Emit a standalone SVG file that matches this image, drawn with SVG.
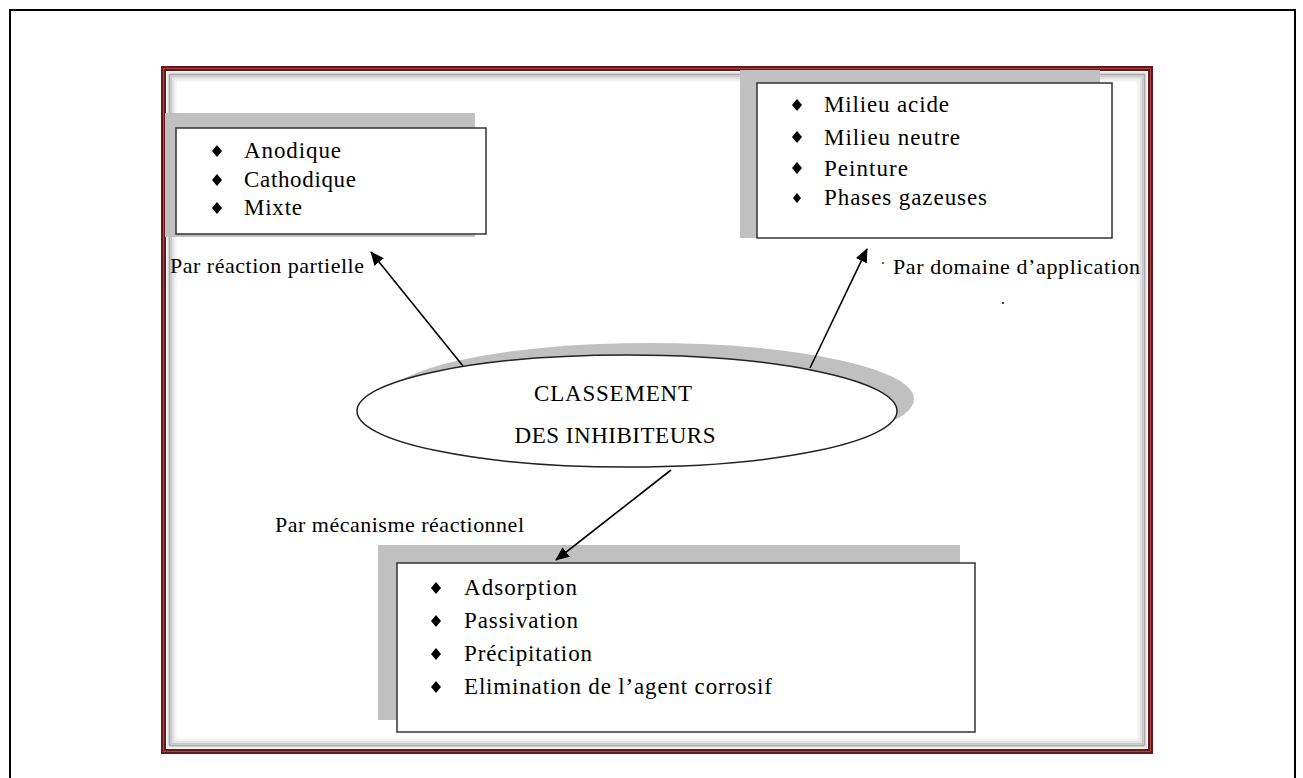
<svg xmlns="http://www.w3.org/2000/svg" width="1303" height="778" viewBox="0 0 1303 778">
<style>
  .t { font-family: "Liberation Serif", "Times New Roman", serif; font-size: 23px; fill: #000; }
  .lb { font-size: 22px; }
  .box { fill: #fff; stroke: #333; stroke-width: 1.5; }
  .sh { fill: #c0c0c0; }
  .conn { stroke: #000; stroke-width: 1.6; fill: none; marker-end: url(#ah); }
</style>
<defs>
  <marker id="ah" viewBox="0 0 14 12" refX="13" refY="6" markerWidth="14" markerHeight="12" markerUnits="userSpaceOnUse" orient="auto">
    <path d="M0,0 L14,6 L0,12 Z" fill="#000"/>
  </marker>
  <polygon id="dia" points="0,-6 5,0 0,6 -5,0" fill="#000"/>
</defs>
<rect width="1303" height="778" fill="#fff"/>
<!-- outer border -->
<rect x="10" y="10" width="1285" height="800" fill="none" stroke="#000" stroke-width="2"/>
<!-- inner frame -->
<g id="frame">
  <rect x="163.5" y="68.5" width="987" height="683" fill="#fff" stroke="#6a1519" stroke-width="5"/>
  <rect x="163.5" y="68.5" width="987" height="683" fill="none" stroke="#a04a4a" stroke-width="1"/>
  <rect x="167.5" y="72.5" width="979" height="675" fill="none" stroke="#e8e8e8" stroke-width="1"/>
  <rect x="169.5" y="74.5" width="975" height="671" fill="none" stroke="#a8a8a8" stroke-width="2"/>
  <rect x="171.5" y="76.5" width="971" height="667" fill="none" stroke="#c8c8c8" stroke-width="2"/>
  <rect x="173.5" y="78.5" width="967" height="663" fill="none" stroke="#e0e0e0" stroke-width="2"/>
  <rect x="175.5" y="80.5" width="963" height="659" fill="none" stroke="#f2f2f2" stroke-width="2"/>
</g>
<g id="node-reaction">
  <rect class="sh" x="165" y="113" width="310" height="124"/>
  <rect class="box" x="176" y="128" width="310" height="106"/>
  <use href="#dia" x="217" y="151"/>
  <use href="#dia" x="217" y="180"/>
  <use href="#dia" x="217" y="208"/>
  <text class="t" x="244" y="158" textLength="97">Anodique</text>
  <text class="t" x="244" y="187" textLength="112">Cathodique</text>
  <text class="t" x="244" y="215" textLength="58">Mixte</text>
</g>
<g id="node-domaine">
  <rect class="sh" x="740" y="70" width="360" height="168"/>
  <rect class="box" x="757" y="83" width="355" height="155"/>
  <use href="#dia" x="797" y="105"/>
  <use href="#dia" x="797" y="137"/>
  <use href="#dia" x="797" y="168"/>
  <polygon points="797,193 801,198 797,203 793,198" fill="#000"/>
  <text class="t" x="824" y="112" textLength="125">Milieu acide</text>
  <text class="t" x="824" y="145" textLength="136">Milieu neutre</text>
  <text class="t" x="824" y="176" textLength="84">Peinture</text>
  <text class="t" x="824" y="205" textLength="163">Phases gazeuses</text>
</g>
<g id="node-center">
  <ellipse cx="650" cy="399" rx="264" ry="56" fill="#c0c0c0"/>
  <ellipse cx="627" cy="411" rx="270" ry="56" fill="#fff" stroke="#222" stroke-width="1.5"/>
  <text class="t" x="613" y="401" text-anchor="middle" textLength="158">CLASSEMENT</text>
  <text class="t" x="615" y="443" text-anchor="middle" textLength="201">DES INHIBITEURS</text>
</g>
<g id="node-mecanisme">
  <rect class="sh" x="378" y="545" width="582" height="175"/>
  <rect class="box" x="397" y="563" width="578" height="169"/>
  <use href="#dia" x="436" y="588"/>
  <use href="#dia" x="436" y="621"/>
  <use href="#dia" x="436" y="654"/>
  <use href="#dia" x="436" y="687"/>
  <text class="t" x="464" y="595" textLength="113">Adsorption</text>
  <text class="t" x="464" y="628" textLength="114">Passivation</text>
  <text class="t" x="464" y="661" textLength="128">Précipitation</text>
  <text class="t" x="464" y="694" textLength="308">Elimination de l’agent corrosif</text>
</g>
<g id="connectors">
  <line class="conn" x1="463" y1="366" x2="371" y2="252"/>
  <line class="conn" x1="810" y1="368" x2="867" y2="249"/>
  <line class="conn" x1="671" y1="470" x2="556" y2="560"/>
</g>
<g id="labels">
  <text class="t lb" x="170" y="273" textLength="194">Par réaction partielle</text>
  <text class="t lb" x="893" y="274" textLength="247">Par domaine d’application</text>
  <text class="t lb" x="275" y="532" textLength="249">Par mécanisme réactionnel</text>
  <rect x="882" y="262" width="2" height="2" fill="#666"/>
  <rect x="1002" y="302" width="2" height="2" fill="#444"/>
</g>
</svg>
